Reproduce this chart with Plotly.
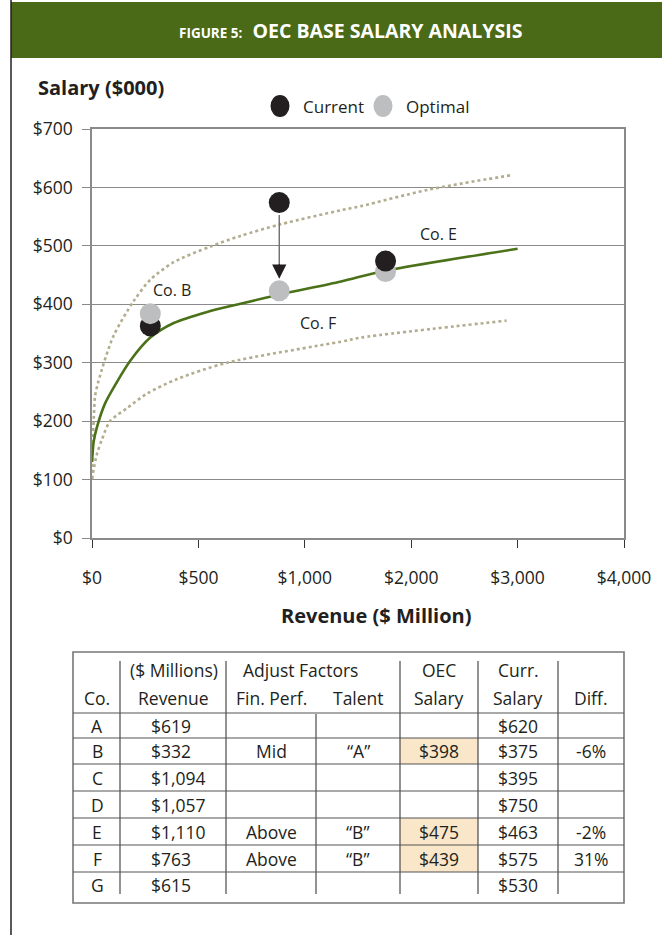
import numpy as np
import plotly.graph_objects as go

# ---------------- data ----------------
TICK_REVENUE = [0, 500, 1000, 2000, 3000, 4000]
TICK_LABELS = ["$0", "$500", "$1,000", "$2,000", "$3,000", "$4,000"]
Y_TICKS = [0, 100, 200, 300, 400, 500, 600, 700]
Y_LABELS = ["$0", "$100", "$200", "$300", "$400", "$500", "$600", "$700"]

companies = ["Co. B", "Co. F", "Co. E"]
company_revenue = [274, 880, 1759]
current_salary = [363, 574, 474]
optimal_salary = [384, 423, 456]

fit_revenue = [0, 8, 22, 61, 117, 179, 274, 384, 541, 698, 887, 1340, 1745, 3000]
fit_salary = [130, 165, 188, 230, 267, 303, 343, 368, 387, 401, 417, 439, 457, 495]

upper_revenue = [0, 3, 11, 14, 30, 100, 195, 274, 384, 557, 698, 887, 1340, 1528, 2158, 2943]
upper_salary = [101, 160, 225, 242, 268, 345, 405, 442, 472, 499, 517, 537, 561, 568, 596, 621]

lower_revenue = [0, 22, 46, 85, 164, 258, 400, 635, 1340, 1528, 2896]
lower_salary = [101, 142, 168, 200, 222, 247, 272, 300, 336, 343, 372]

table_company = ["A", "B", "C", "D", "E", "F", "G"]
table_revenue = ["$619", "$332", "$1,094", "$1,057", "$1,110", "$763", "$615"]
table_fin_perf = ["", "Mid", "", "", "Above", "Above", ""]
table_talent = ["", "“A”", "", "", "“B”", "“B”", ""]
table_oec = ["", "$398", "", "", "$475", "$439", ""]
table_curr = ["$620", "$375", "$395", "$750", "$463", "$575", "$530"]
table_diff = ["", "-6%", "", "", "-2%", "31%", ""]

# ---------------- styling / layout helpers ----------------
W_FIG, H_FIG = 662, 935
PL, PR, PT, PB = 92, 624, 129, 538
FONT = "Open Sans"
TXT = "#231f20"
GREEN = "#4a6a17"
BLACK_PT = "#231f20"
GRAY_PT = "#bcbec0"
DOT = "#b3ad8f"
GRID = "#8a8a8a"
TSIZE = 17.5


def px(x):
    return (x - PL) / (PR - PL)


def py(y):
    return (PB - y) / (PB - PT)


tick_pos = list(range(len(TICK_REVENUE)))


def to_axis(rev):
    return np.interp(rev, TICK_REVENUE, tick_pos)


fig = go.Figure()

for rv, sv in [(upper_revenue, upper_salary), (lower_revenue, lower_salary)]:
    fig.add_trace(go.Scatter(x=to_axis(rv), y=sv, mode="lines",
                             line=dict(color=DOT, width=2.6, dash="dot", shape="spline",
                                       smoothing=0.8),
                             showlegend=False, hoverinfo="skip"))
fig.add_trace(go.Scatter(x=to_axis(fit_revenue), y=fit_salary, mode="lines",
                         line=dict(color="#4b7219", width=2.6, shape="spline", smoothing=0.8),
                         showlegend=False, hoverinfo="skip"))

# points: the lower salary point is drawn first so the higher one sits on top
for name, rev, cur, opt in zip(companies, company_revenue, current_salary, optimal_salary):
    pts = [("Current", cur, BLACK_PT), ("Optimal", opt, GRAY_PT)]
    pts.sort(key=lambda p: p[1])
    for kind, val, col in pts:
        fig.add_trace(go.Scatter(x=[to_axis(rev)], y=[val], mode="markers",
                                 marker=dict(size=21, color=col), name=kind,
                                 showlegend=False))

# arrow for Co. F (current -> optimal): grey shaft, dark head
i_f = companies.index("Co. F")
fx = to_axis(company_revenue[i_f])
fig.add_annotation(x=fx, y=optimal_salary[i_f], ax=fx, ay=current_salary[i_f],
                   xref="x", yref="y", axref="x", ayref="y", text="",
                   showarrow=True, arrowhead=0, arrowwidth=1.4,
                   arrowcolor="#6d6d6d", standoff=24, startstandoff=11)
fig.add_annotation(x=fx, y=optimal_salary[i_f], ax=0, ay=-48,
                   xref="x", yref="y", text="",
                   showarrow=True, arrowhead=2, arrowsize=2.2, arrowwidth=1.3,
                   arrowcolor="#231f20", standoff=12, startstandoff=20)

# company labels
label_offsets = {"Co. B": (22, 24, "optimal"), "Co. F": (39, -32, "optimal"),
                 "Co. E": (53, 27, "current")}
for name, rev, cur, opt in zip(companies, company_revenue, current_salary, optimal_salary):
    dx, dy, ref = label_offsets[name]
    fig.add_annotation(x=to_axis(rev), y=opt if ref == "optimal" else cur, text=name,
                       showarrow=False, xshift=dx, yshift=dy, xanchor="center",
                       yanchor="middle", font=dict(family=FONT, size=16, color=TXT))

shapes = []
annotations = []


def note(x, y, text, size=TSIZE, xanchor="center", bold=False, color=TXT):
    annotations.append(dict(xref="paper", yref="paper", x=px(x), y=py(y), showarrow=False,
                            xanchor=xanchor, yanchor="middle",
                            text=f"<b>{text}</b>" if bold else text,
                            font=dict(family=FONT, size=size, color=color)))


# header bar
shapes.append(dict(type="rect", xref="paper", yref="paper", x0=px(11), x1=px(663),
                   y0=py(58), y1=py(2), fillcolor=GREEN, line=dict(width=0), layer="below"))
shapes.append(dict(type="line", xref="paper", yref="paper", x0=px(11), x1=px(11),
                   y0=py(0), y1=py(936), line=dict(color="#231f20", width=1.5)))
note(350, 30, "<span style='font-size:13.5px'><b>FIGURE 5:</b></span>  <b>OEC BASE SALARY ANALYSIS</b>",
     size=19.5, color="white")

# axis titles
note(36, 87, "Salary ($000)", size=20, xanchor="left", bold=True)
note(376, 615, "Revenue ($ Million)", size=20, bold=True)

# legend (manual)
for cx, col, label, tx in [(280, BLACK_PT, "Current", 301), (383, GRAY_PT, "Optimal", 404)]:
    shapes.append(dict(type="circle", xref="paper", yref="paper",
                       x0=px(cx - 9.5), x1=px(cx + 9.5), y0=py(117), y1=py(95),
                       fillcolor=col, line=dict(width=0)))
    note(tx, 106, label, size=17, xanchor="left")

# ---------------- table ----------------
T_L, T_R, T_T, T_B = 73, 624, 652, 903
col_lines = [120, 226, 316, 400, 478, 558]
col_centers = [97, 173, 271, 358, 439, 518, 591]
row_lines = [713, 738, 764, 791, 818, 845, 872]
row_centers = [725.5, 751, 777.5, 804.5, 831.5, 858.5, 885]
hl_rows = [i for i, v in enumerate(table_oec) if v]
row_bounds = row_lines + [898]
for i in hl_rows:
    shapes.append(dict(type="rect", xref="paper", yref="paper", x0=px(400), x1=px(478),
                       y0=py(row_bounds[i + 1]), y1=py(row_bounds[i]),
                       fillcolor="#fae6c8", line=dict(width=0), layer="below"))
shapes.append(dict(type="rect", xref="paper", yref="paper", x0=px(T_L), x1=px(T_R),
                   y0=py(T_B), y1=py(T_T), line=dict(color="#777777", width=1.6)))
for xl in col_lines:
    top = 714 if xl == 316 else 661
    shapes.append(dict(type="line", xref="paper", yref="paper", x0=px(xl), x1=px(xl),
                       y0=py(top), y1=py(894), line=dict(color="#3a3a3a", width=1.1)))
for yl in row_lines:
    shapes.append(dict(type="line", xref="paper", yref="paper", x0=px(T_L), x1=px(T_R),
                       y0=py(yl), y1=py(yl), line=dict(color="#555555", width=1.1)))

hdr1 = [("($ Millions)", 174), ("Adjust Factors", 300), ("OEC", 439), ("Curr.", 518)]
hdr2 = ["Co.", "Revenue", "Fin. Perf.", "Talent", "Salary", "Salary", "Diff."]
for t, x in hdr1:
    note(x, 670, t)
for t, x in zip(hdr2, col_centers):
    note(x, 698, t)
columns = [table_company, table_revenue, table_fin_perf, table_talent, table_oec,
           table_curr, table_diff]
for ci, (col, x) in enumerate(zip(columns, col_centers)):
    for v, y in zip(col, row_centers):
        if v:
            if ci == 1:
                note(149, y, v, xanchor="left")
            else:
                note(x, y, v)

fig.update_layout(
    width=W_FIG, height=H_FIG,
    margin=dict(l=PL, r=W_FIG - PR, t=PT, b=H_FIG - PB, pad=0),
    paper_bgcolor="white", plot_bgcolor="white",
    font=dict(family=FONT, color=TXT),
    showlegend=False,
    shapes=shapes,
)
for a in annotations:
    fig.add_annotation(**a)

fig.update_xaxes(range=[0, len(TICK_REVENUE) - 1], tickvals=tick_pos, ticktext=TICK_LABELS,
                 showgrid=False, zeroline=False, showline=True, linecolor=GRID, linewidth=1.5,
                 mirror=True, ticks="outside", ticklen=8, tickwidth=1.3, tickcolor="#333333",
                 ticklabelstandoff=15, tickfont=dict(family=FONT, size=17.5, color=TXT),
                 fixedrange=True)
fig.update_yaxes(range=[0, 700], tickvals=Y_TICKS, ticktext=Y_LABELS,
                 showgrid=True, gridcolor=GRID, gridwidth=1.4, zeroline=False,
                 showline=True, linecolor=GRID, linewidth=1.5, mirror=True,
                 ticks="outside", ticklen=8, tickwidth=1.4, tickcolor=GRID,
                 ticklabelstandoff=6, tickfont=dict(family=FONT, size=17.5, color=TXT),
                 fixedrange=True)

fig.write_html("out.html", config={"displayModeBar": False},
               post_script="document.body.style.margin='0';document.body.style.overflow='hidden';")
